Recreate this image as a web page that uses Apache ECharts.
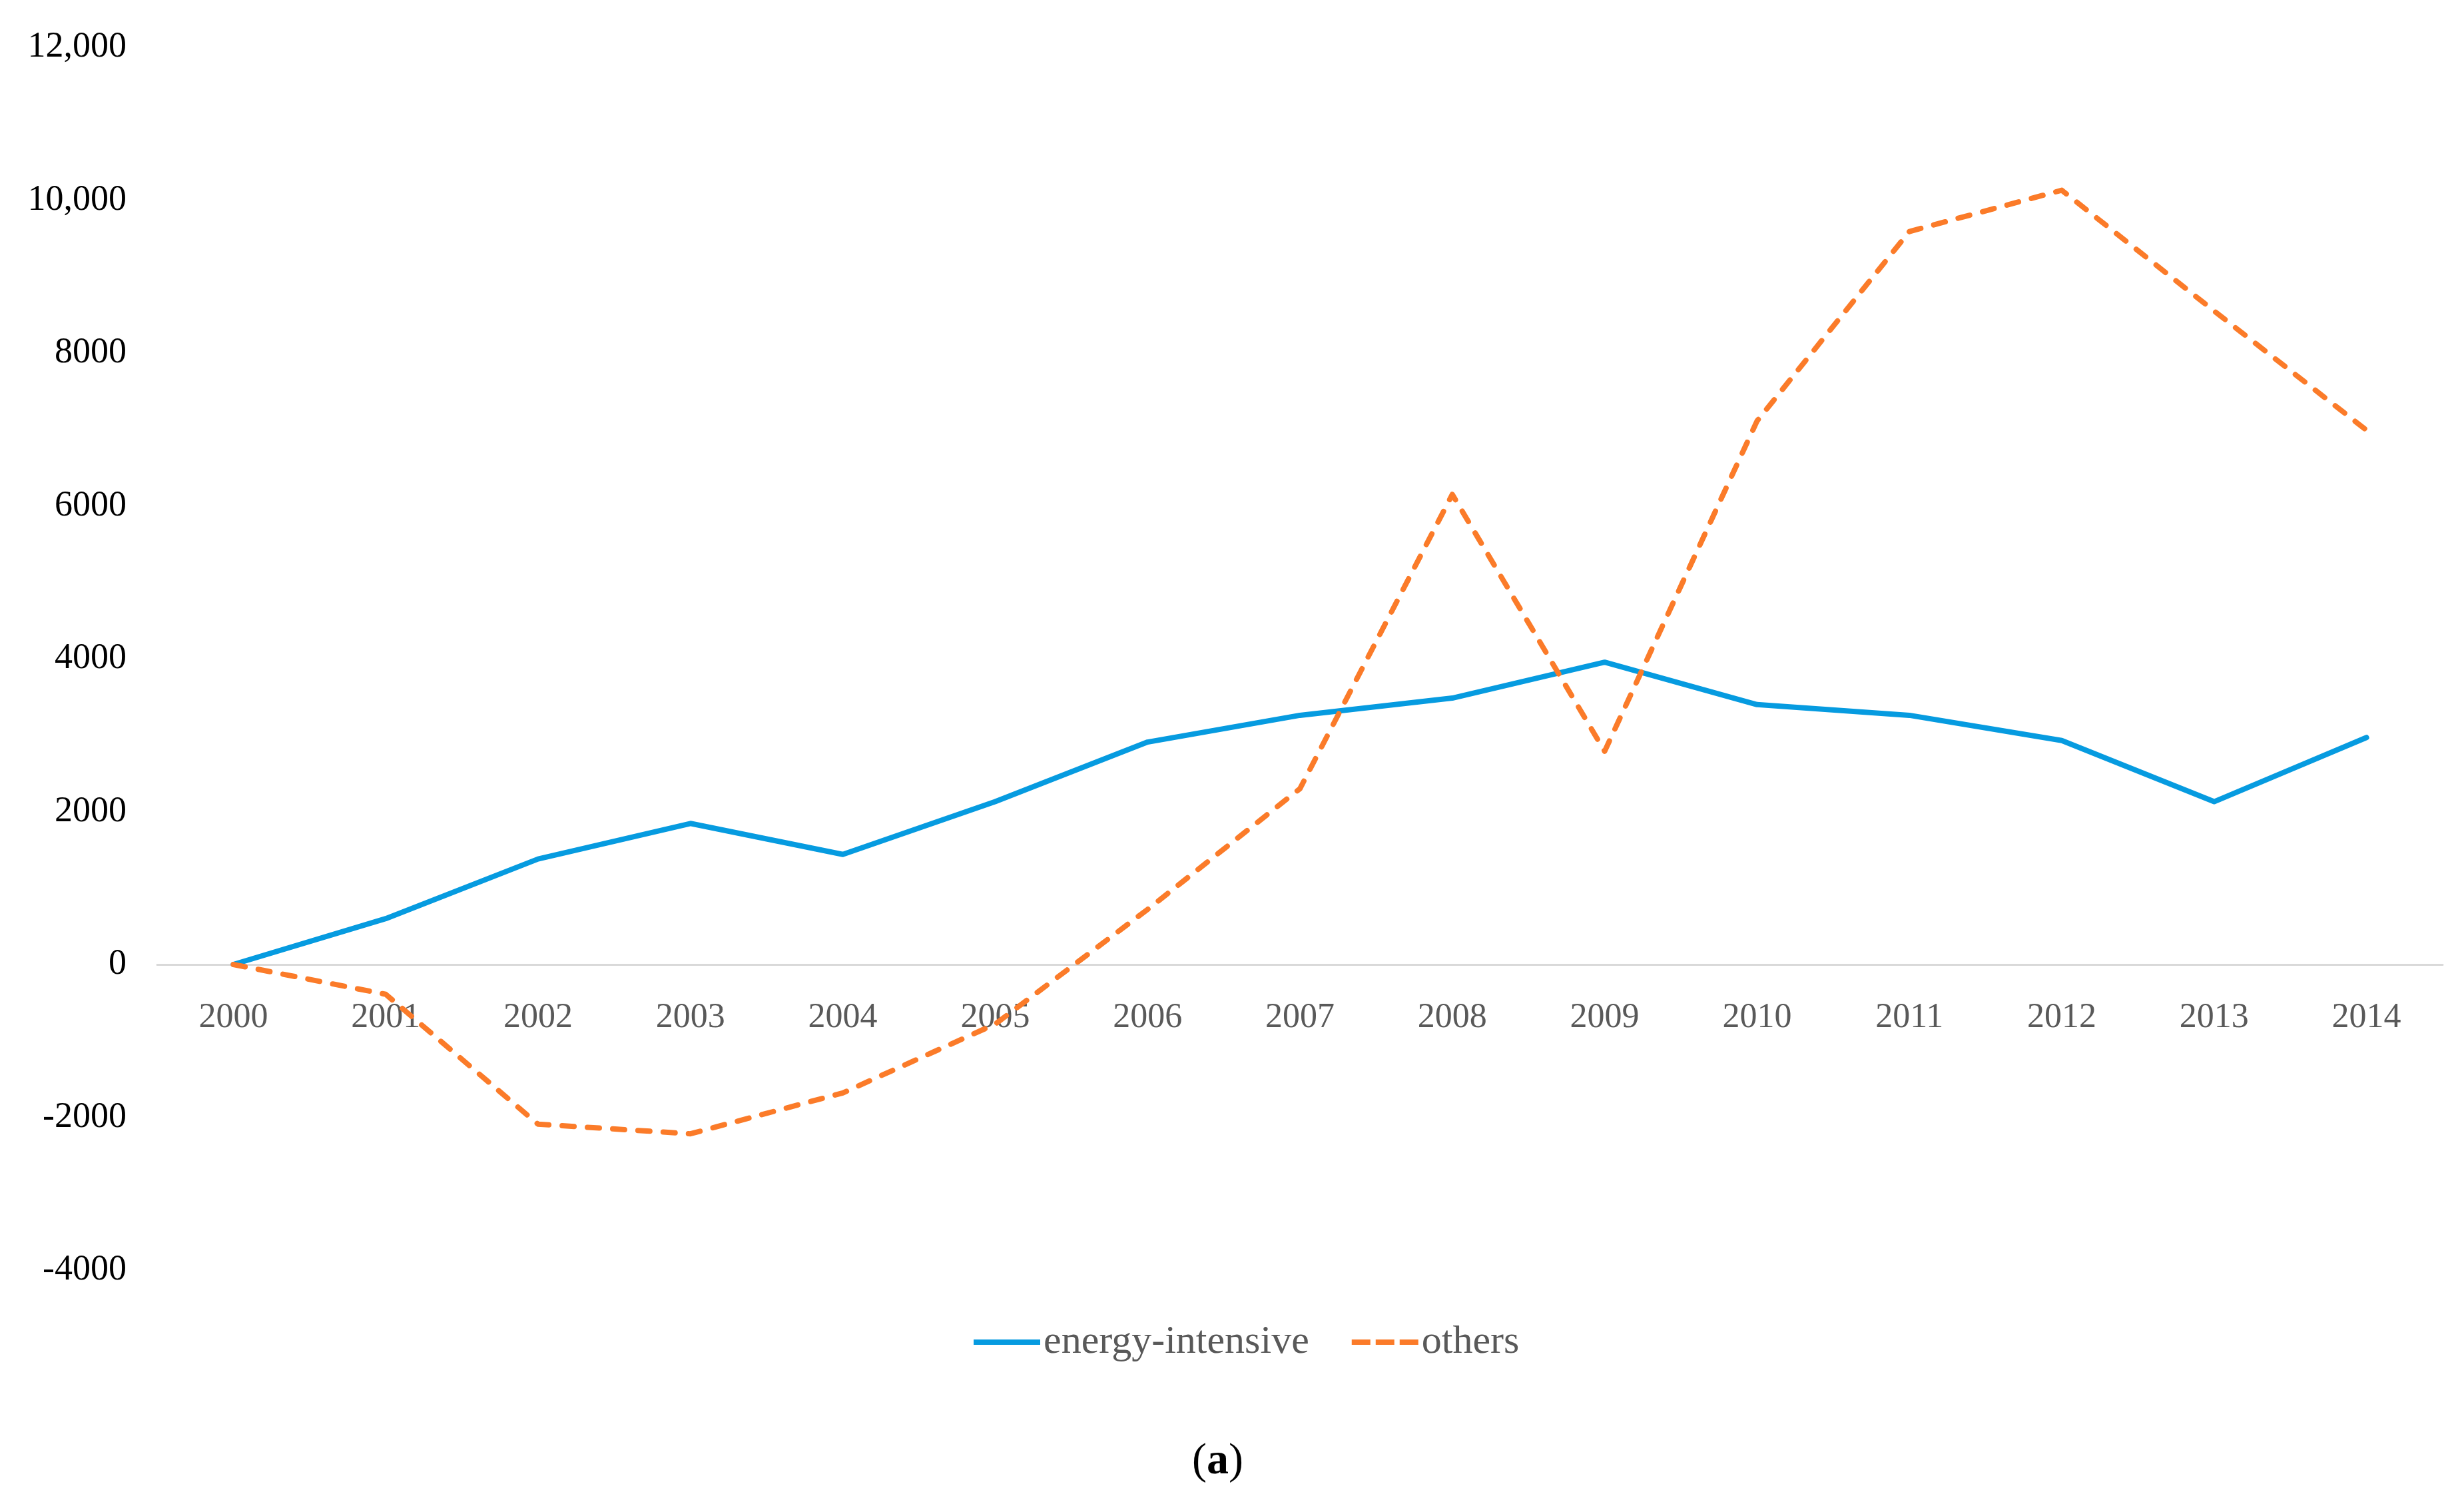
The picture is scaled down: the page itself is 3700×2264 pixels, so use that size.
<!DOCTYPE html>
<html>
<head>
<meta charset="utf-8">
<script src="https://cdn.jsdelivr.net/npm/echarts@6/dist/echarts.min.js"></script>
<style>html,body{margin:0;padding:0;background:#fff;}#c{width:3700px;height:2264px;}</style>
</head>
<body>
<div id="c"></div>
<script>
const years = ['2000','2001','2002','2003','2004','2005','2006','2007','2008','2009','2010','2011','2012','2013','2014'];
const energyIntensive = [0, 600, 1380, 1845, 1440, 2130, 2910, 3260, 3485, 3955, 3400, 3260, 2930, 2130, 2970];
const others = [0, -390, -2090, -2215, -1680, -780, 720, 2300, 6150, 2790, 7110, 9590, 10130, 8550, 6990];
const yMin = -4000, yMax = 12000, yStep = 2000;
const seriesNames = ['energy-intensive', 'others'];

const FONT = 'Liberation Serif';
const GRID_TOP = 71, GRID_BOTTOM = 357, H = 2264;
const plotH = H - GRID_TOP - GRID_BOTTOM;
const zeroOffset = plotH * (0 - yMin) / (yMax - yMin);

const chart = echarts.init(document.getElementById('c'), null, {renderer: 'canvas'});
chart.setOption({
  backgroundColor: '#ffffff',
  animation: false,
  grid: {left: 236, right: 32, top: GRID_TOP, bottom: GRID_BOTTOM, containLabel: false},
  graphic: [{
    type: 'text',
    left: 1790,
    top: 2162,
    style: {
      text: '{p|(}{b|a}{p|)}',
      rich: {
        p: {fontFamily: FONT, fontSize: 66, fill: '#000'},
        b: {fontFamily: FONT, fontSize: 66, fill: '#000', fontWeight: 'bold'}
      }
    }
  }],
  legend: {
    data: [
      {name: seriesNames[0], icon: 'path://M0,0h100v8h-100z'},
      {name: seriesNames[1], icon: 'path://M0,0h28v8h-28z M36,0h28v8h-28z M72,0h28v8h-28z'}
    ],
    left: 1457,
    top: 1980,
    itemWidth: 100,
    itemHeight: 8,
    itemGap: 64,
    textStyle: {fontFamily: FONT, fontSize: 60, color: '#595959'}
  },
  xAxis: {
    type: 'category',
    data: years,
    boundaryGap: true,
    offset: -zeroOffset,
    axisLine: {onZero: false, lineStyle: {color: '#d9d9d9', width: 3}},
    axisTick: {show: false},
    axisLabel: {fontFamily: FONT, fontSize: 52, color: '#595959', margin: 54}
  },
  yAxis: {
    type: 'value',
    min: yMin, max: yMax, interval: yStep,
    axisLine: {show: false},
    axisTick: {show: false},
    splitLine: {show: false},
    axisLabel: {
      fontFamily: FONT, fontSize: 54, color: '#000', margin: 46,
      formatter: function (v) { return Math.abs(v) >= 10000 ? v.toLocaleString('en-US') : String(v); }
    }
  },
  series: [
    {
      name: seriesNames[0], type: 'line', data: energyIntensive,
      symbol: 'none', color: '#069be0',
      lineStyle: {color: '#069be0', width: 8, cap: 'round', join: 'round'}
    },
    {
      name: seriesNames[1], type: 'line', data: others,
      symbol: 'none', color: '#fb7b29',
      lineStyle: {color: '#fb7b29', width: 8, type: [18, 20], cap: 'round', join: 'round'}
    }
  ]
});
</script>
</body>
</html>
